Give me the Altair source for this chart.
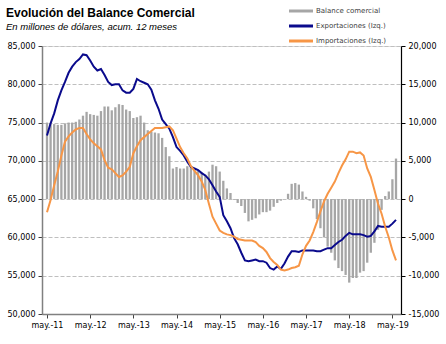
import altair as alt
import pandas as pd

# Valores (miles de millones -> se multiplican por 1000)
exportaciones = [
    73.3, 74.9, 76.2, 77.9, 79.2, 80.3, 81.5, 82.3, 82.9, 83.3,
    83.9, 83.8, 83.1, 82.3, 81.8, 82.0, 81.2, 80.3, 79.9, 80.0,
    80.0, 79.2, 78.9, 78.9, 79.4, 80.7, 80.4, 80.2, 80.0, 79.3,
    77.9, 76.8, 75.4, 74.8, 74.2, 73.1, 71.8, 71.3, 70.7, 69.9,
    69.2, 69.0, 68.8, 68.4, 68.1, 67.6, 66.8, 66.0, 65.3, 62.9,
    62.1, 61.2, 59.9, 59.1, 58.0, 57.0, 56.9, 57.0, 57.1, 56.9,
    56.9, 56.7, 56.0, 55.8, 56.2, 55.9, 56.6, 57.5, 58.2, 58.2,
    58.1, 58.3, 58.3, 58.3, 58.3, 58.2, 58.2, 58.4, 58.6, 58.6,
    59.0, 59.4, 59.7, 60.2, 60.6, 60.4, 60.4, 60.4, 60.3, 60.1,
    60.2, 60.8, 61.5, 61.4, 61.4, 61.4, 61.8, 62.3,
]
importaciones = [
    63.3, 64.9, 66.8, 68.6, 70.7, 72.5, 73.2, 73.7, 74.1, 74.3,
    74.3, 73.5, 72.8, 72.3, 71.9, 71.5, 70.1, 69.1, 68.9, 68.4,
    67.9, 68.1, 68.6, 69.2, 71.0, 71.9, 72.7, 73.1, 73.5, 73.9,
    74.3, 74.3, 74.3, 74.4, 74.5, 74.0, 72.9, 71.8, 71.0, 70.3,
    69.3, 68.7, 68.1, 67.3, 66.2, 64.4, 62.7, 61.8, 60.9, 60.6,
    60.4, 60.3, 60.1, 59.8, 59.7, 59.6, 59.6, 59.6, 59.4, 58.9,
    58.6, 58.1, 57.3, 56.8, 56.4, 55.8, 55.7, 55.8, 56.0, 56.1,
    56.3, 57.8, 58.9, 59.6, 60.7, 62.0, 63.4, 64.7, 65.7, 66.5,
    67.3, 68.4, 69.4, 70.2, 71.2, 71.2, 71.0, 71.1, 70.7, 69.0,
    67.9, 66.2, 64.4, 63.1, 61.4, 60.0, 58.3, 57.0,
]
balance = [
    10.0, 9.9, 9.8, 9.7, 9.7, 9.9, 10.0, 10.0, 10.1, 10.4,
    10.9, 11.4, 11.1, 11.0, 10.9, 11.5, 12.1, 12.1, 11.6, 12.0,
    12.4, 12.3, 11.7, 11.5, 10.6, 10.7, 10.9, 10.0, 9.0, 8.8,
    8.7, 8.6, 8.0, 6.8, 5.6, 4.0, 4.2, 4.0, 4.0, 4.3,
    4.2, 3.9, 3.7, 3.5, 3.2, 3.6, 4.5, 4.3, 3.6, 2.4,
    1.4, 0.8, -0.1, -0.5, -0.9, -1.8, -2.9, -2.7, -2.5, -2.0,
    -1.7, -1.7, -1.5, -1.0, -0.5, -0.2, 0.0, 0.7, 2.0, 2.1,
    1.9, 1.0, 0.3, -0.2, -1.2, -2.6, -3.8, -5.0, -6.2, -7.0,
    -8.0, -9.0, -9.4, -9.9, -10.9, -10.3, -10.3, -9.6, -9.4, -8.3,
    -7.0, -5.7, -4.0, -1.4, 0.4, 1.0, 2.6, 5.3,
]
series = ["Balance comercial", "Exportaciones (Izq.)", "Importaciones (Izq.)"]
colores = ["#A6A6A6", "#0A0A8C", "#F79646"]
etiquetas_x = ["may.-11", "may.-12", "may.-13", "may.-14", "may.-15",
               "may.-16", "may.-17", "may.-18", "may.-19"]
valores_x = [12 * k for k in range(len(etiquetas_x))]

n = len(exportaciones)
lineas = pd.concat([
    pd.DataFrame({"mes": range(n), "valor": [v * 1000 for v in exportaciones], "serie": series[1]}),
    pd.DataFrame({"mes": range(n), "valor": [v * 1000 for v in importaciones], "serie": series[2]}),
])
barras = pd.DataFrame({"mes": range(n), "valor": [v * 1000 for v in balance], "serie": series[0]})

label_map = "{" + ",".join(f"'{v}':'{t}'" for v, t in zip(valores_x, etiquetas_x)) + "}"

FONT = "DejaVu Sans"
xenc = alt.X("mes:Q", scale=alt.Scale(domain=[0, n - 1], nice=False, zero=False),
             axis=alt.Axis(values=valores_x, labelExpr=f"{label_map}[datum.value + '']",
                           title=None, grid=False, tickSize=4, labelPadding=3,
                           labelFont=FONT, labelFontSize=8, labelColor="#000",
                           domainColor="#808080", domainWidth=1.5, tickColor="#404040"))

color = alt.Color("serie:N", scale=alt.Scale(domain=series, range=colores),
                  legend=alt.Legend(title=None, orient="none", legendX=253, legendY=-41,
                                    symbolType="M-2,-0.25H2V0.25H-2Z", symbolSize=144,
                                    symbolStrokeWidth=0, labelOffset=9, rowPadding=6,
                                    labelFont=FONT, labelFontSize=7, labelColor="#404040"))

bars = alt.Chart(barras).mark_bar(size=2.3, clip=True).encode(
    x=xenc,
    y=alt.Y("valor:Q", scale=alt.Scale(domain=[-15000, 20000], nice=False, zero=False),
            axis=alt.Axis(orient="right", values=list(range(-15000, 20001, 5000)),
                          labelExpr="replace(format(datum.value, ','), '\u2212', '-')",
                          title=None, grid=False, tickSize=4, labelPadding=3,
                          labelFont=FONT, labelFontSize=8, labelColor="#000",
                          domainColor="#000", domainWidth=1.2, tickColor="#000")),
    color=color,
)

lines = alt.Chart(lineas).mark_line(strokeWidth=2, clip=True).encode(
    x=xenc,
    y=alt.Y("valor:Q", scale=alt.Scale(domain=[50000, 85000], nice=False, zero=False),
            axis=alt.Axis(orient="left", values=list(range(50000, 85001, 5000)),
                          labelExpr="format(datum.value, ',')",
                          title=None, grid=True, gridDash=[4, 2],
                          gridColor="#BFBFBF", gridWidth=1, tickSize=4, labelPadding=3,
                          labelFont=FONT, labelFontSize=8, labelColor="#000",
                          domainColor="#808080", domainWidth=1.5, tickColor="#404040")),
    color=color,
)

chart = alt.layer(bars, lines).resolve_scale(y="independent").properties(
    width=359, height=268,
    autosize=alt.AutoSizeParams(type="none"),
    padding={"left": 42, "top": 46, "right": 45, "bottom": 30},
    title=alt.TitleParams(
        text="Evolución del Balance Comercial",
        subtitle="En millones de dólares, acum. 12 meses",
        anchor="start", frame="group", dx=-36, dy=41, offset=14,
        font="Liberation Sans", fontSize=12, fontWeight="bold", color="#000",
        subtitleFont="Liberation Sans", subtitleFontSize=9.5, subtitleFontStyle="italic",
        subtitleColor="#000", subtitlePadding=2,
    ),
).configure_view(stroke=None).configure(background="white")

chart.save("out.html", embed_options={"renderer": "svg", "actions": False})
